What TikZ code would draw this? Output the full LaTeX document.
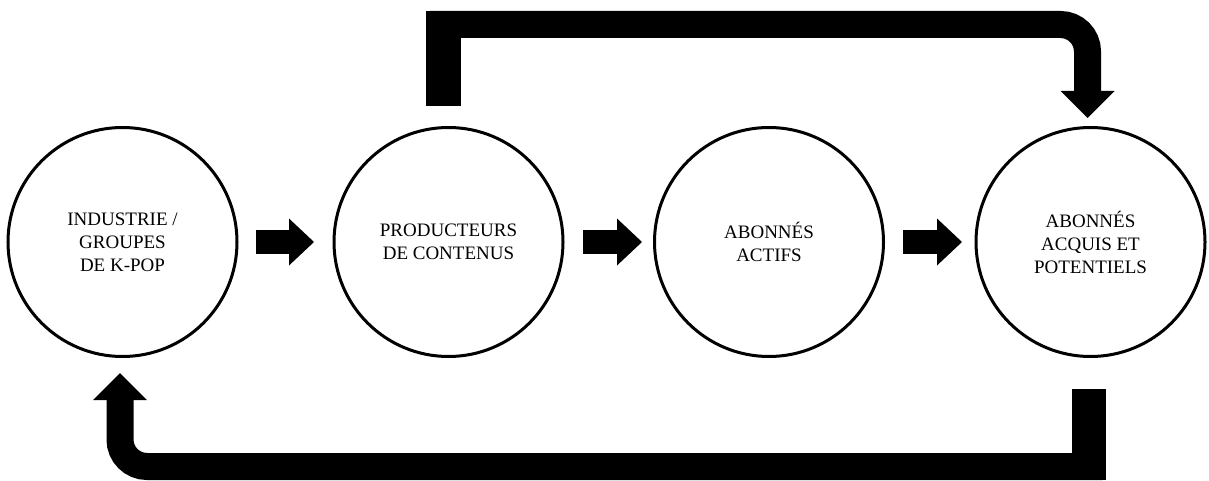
\documentclass[tikz,border=0pt]{standalone}
\usepackage{fontspec}
\setmainfont{Liberation Serif}
\usetikzlibrary{arrows.meta}
\tikzset{
  stage/.style={circle, minimum size=229pt, inner sep=0pt, line width=3pt, draw=black, align=center, font=\fontsize{19pt}{23pt}\selectfont},
  stepflow/.style={line width=24pt, -{Triangle[width=47pt,length=25pt,line width=0pt]}},
  loopflow/.style={line width=27pt, -{Triangle[width=54pt,length=27pt,line width=0pt]}},
}
\begin{document}
\begin{tikzpicture}
\useasboundingbox (0pt,0pt) rectangle (1209pt,-481pt);
\node (n1) [stage] at (122.5pt, -242pt) {INDUSTRIE /\\GROUPES\\DE K-POP};
\node (n2) [stage] at (448.5pt, -242pt) {PRODUCTEURS\\DE CONTENUS};
\node (n3) [stage] at (769.0pt, -242pt) {ABONNÉS\\ACTIFS};
\node (n4) [stage] at (1090.5pt, -242pt) {ABONNÉS\\ACQUIS ET\\POTENTIELS};
\draw [stepflow] ([xshift=17.5pt]n1.east) to ([xshift=-18.5pt]n2.west);
\draw [stepflow] ([xshift=18.5pt]n2.east) to ([xshift=-11pt]n3.west);
\draw [stepflow] ([xshift=18pt]n3.east) to ([xshift=-12.5pt]n4.west);
\coordinate (topline) at (0pt, -24.5pt);
\coordinate (topedge) at (0pt, -11pt);
\coordinate (botline) at (0pt, -466.5pt);
\coordinate (botedge) at (0pt, -480pt);
\coordinate (fbA) at ([shift={(-5pt,20pt)}]n2.north);
\coordinate (fbB) at ([shift={(-3pt,8pt)}]n4.north);
\coordinate (fbC) at ([shift={(-1.5pt,-31pt)}]n4.south);
\coordinate (fbD) at ([shift={(-2.5pt,-15pt)}]n1.south);
\draw [loopflow] (fbA) -- (fbA |- topline) [rounded corners=27pt] -| (fbB);
\draw [line width=35pt] (fbA) -- (fbA |- topedge);
\draw [loopflow] (fbC) -- (fbC |- botline) [rounded corners=27pt] -| (fbD);
\draw [line width=34pt] (fbC) -- (fbC |- botedge);
\end{tikzpicture}
\end{document}
